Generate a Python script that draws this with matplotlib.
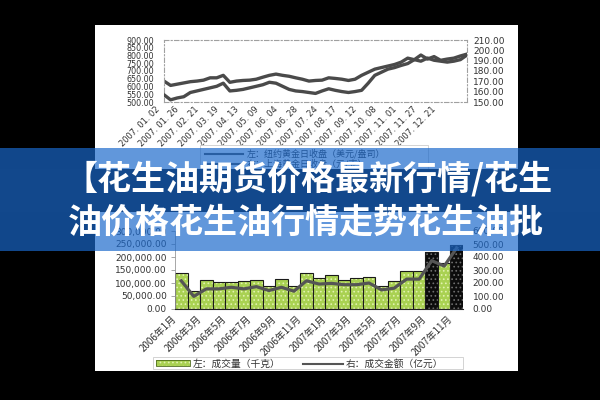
import matplotlib.pyplot as plt
from matplotlib.patches import Rectangle
from matplotlib.lines import Line2D
from matplotlib.transforms import ScaledTranslation

W, H = 600, 400
CJK = ['Noto Sans CJK SC', 'DejaVu Sans']


def fx(x):
    return x / W


def fy(y):
    return 1 - y / H


# top chart: daily gold closes 2007 (sampled)
dates = ["2007. 01. 02", "2007. 01. 26", "2007. 02. 21", "2007. 03. 19", "2007. 04. 13",
         "2007. 05. 09", "2007. 06. 04", "2007. 06. 28", "2007. 07. 24", "2007. 08. 17",
         "2007. 09. 12", "2007. 10. 08", "2007. 11. 01", "2007. 11. 27", "2007. 12. 21"]
ny_gold = [635, 607, 615, 623, 631, 635, 641, 656, 656, 672, 627, 635, 639, 641, 647, 660,
           672, 680, 672, 666, 656, 647, 635, 639, 641, 656, 652, 647, 639, 647, 672, 692,
           712, 722, 732, 742, 757, 783, 773, 803, 777, 793, 769, 777, 783, 797, 809]
sh_gold = [157.0, 152.1, 153.9, 155.1, 159.2, 160.7, 162.2, 163.7, 165.2, 168.2, 160.7, 161.3,
           162.2, 163.7, 165.2, 166.7, 169.1, 168.2, 165.2, 162.2, 160.7, 160.1, 159.2, 158.3,
           160.7, 162.8, 161.3, 160.1, 159.2, 160.1, 161.3, 168.2, 175.8, 178.8, 181.8, 183.3,
           185.4, 187.2, 191.0, 189.5, 192.5, 190.4, 189.5, 188.6, 189.5, 191.0, 195.5]

# bottom chart: monthly volume and turnover
months = ["2006年1月", "2006年3月", "2006年5月", "2006年7月", "2006年9月", "2006年11月",
          "2007年1月", "2007年3月", "2007年5月", "2007年7月", "2007年9月", "2007年11月"]
volume = [140000, 70000, 112000, 103000, 103000, 106000, 112000, 90000, 117000, 90000,
          140000, 118000, 130000, 113000, 118000, 122000, 90000, 106000, 145000, 145000,
          220000, 178000, 246000]
amount = [217, 97, 155, 155, 167, 155, 172, 142, 167, 137, 217, 192, 197, 187, 187, 200,
          147, 160, 230, 230, 372, 330, 470]
dark_bars = [20, 22]

title1 = "【花生油期货价格最新行情/花生"
title2 = "油价格花生油行情走势花生油批"

plt.rcParams['hatch.linewidth'] = 0.7
fig = plt.figure(figsize=(6, 4), dpi=100, facecolor='black')

# white panel
fig.add_artist(Rectangle((fx(95), fy(371)), fx(518) - fx(95), fy(25) - fy(371),
                         transform=fig.transFigure, facecolor='white', edgecolor='none', zorder=-5))

# ---- top chart
ax1 = fig.add_axes([fx(164), fy(102), fx(467) - fx(164), fy(40) - fy(102)])
x = list(range(len(ny_gold)))
ax1.plot(x, ny_gold, color='#4a4a4a', lw=2.4)
ax1.set_xlim(0, len(x) - 1)
ax1.set_ylim(500, 900)
ax1.set_yticks(range(500, 901, 50))
ax1.set_yticklabels([f"{v:.2f}" for v in range(500, 901, 50)])
ax1.set_xticks(range(0, 45, 3))
ax1.set_xticklabels(dates, rotation=45, ha='right', va='top', rotation_mode='anchor')
ax1.tick_params(axis='y', length=0, labelsize=5.8, pad=7, labelcolor='#333333')
ax1.tick_params(axis='x', length=0, labelsize=6, pad=2, labelcolor='#333333')
for s in ax1.spines.values():
    s.set_linestyle((0, (4, 2, 1, 2)))
    s.set_color('#a0a0a0')
    s.set_linewidth(0.8)
for lab in ax1.get_xticklabels():
    lab.set_transform(lab.get_transform() + ScaledTranslation(-9 / 100, 0, fig.dpi_scale_trans))

ax2 = ax1.twinx()
ax2.plot(x, sh_gold, color='#4a4a4a', lw=2.4)
ax2.set_ylim(150, 210)
ax2.set_yticks(range(150, 211, 10))
ax2.set_yticklabels([f"{v:.2f}" for v in range(150, 211, 10)])
ax2.tick_params(axis='y', length=0, labelsize=6.5, pad=4.5, labelcolor='#333333')
for s in ax2.spines.values():
    s.set_visible(False)

# top legend (behind banner)
fig.add_artist(Rectangle((fx(200), fy(173)), fx(428) - fx(200), fy(145) - fy(173),
                         transform=fig.transFigure, facecolor='white', edgecolor='#cccccc',
                         lw=0.6, zorder=5))
for yy, txt in [(154, "左：纽约黄金日收盘（美元/盎司）"), (164, "右：上海黄金日收盘（元/克）")]:
    fig.add_artist(Line2D([fx(205), fx(243)], [fy(yy), fy(yy)], transform=fig.transFigure,
                          color='#4a4a4a', lw=1.5, zorder=6))
    fig.text(fx(247), fy(yy), txt, fontsize=6.5, color='#333333', va='center', ha='left',
             family=CJK, zorder=6)

# ---- bottom chart
ax3 = fig.add_axes([fx(175), fy(309), fx(463) - fx(175), fy(231) - fy(309)])
bx = list(range(len(volume)))
for i, v in enumerate(volume):
    if i in dark_bars:
        fc, hc = '#0c0c0c', '#6e6e6e'
    else:
        fc, hc = '#a9d152', '#e2f2b0'
    ax3.bar(i, v, width=1, color=fc, edgecolor=hc, hatch='....', lw=0)
    ax3.bar(i, v, width=1, fill=False, edgecolor='#1a1a1a', lw=0.8)
ax3.set_xlim(-0.5, len(volume) - 0.5)
ax3.set_ylim(0, 300000)
ax3.set_yticks(range(0, 300001, 50000))
ax3.set_yticklabels([f"{v:,.2f}" for v in range(0, 300001, 50000)])
ax3.set_xticks(range(0, len(volume), 2))
ax3.set_xticklabels(months, rotation=45, ha='right', va='top', rotation_mode='anchor',
                    family=CJK)
ax3.tick_params(axis='y', length=3, width=0.6, color='#999999', labelsize=6.5, pad=3,
                labelcolor='#333333')
ax3.tick_params(axis='x', length=0, labelsize=7, pad=3, labelcolor='#333333')
ax3.spines['top'].set_visible(False)
ax3.spines['right'].set_visible(False)
ax3.spines['left'].set_color('#999999')
ax3.spines['left'].set_linewidth(0.6)
ax3.spines['bottom'].set_color('#222222')
ax3.spines['bottom'].set_linewidth(0.8)
for lab in ax3.get_xticklabels():
    lab.set_transform(lab.get_transform() + ScaledTranslation(-10 / 100, 0, fig.dpi_scale_trans))

ax4 = ax3.twinx()
ax4.plot(bx, amount, color='#555555', lw=2.3)
ax4.set_ylim(0, 600)
ax4.set_yticks(range(0, 601, 100))
ax4.set_yticklabels([f"{v:.2f}" for v in range(0, 601, 100)])
ax4.tick_params(axis='y', length=0, labelsize=6.5, pad=7, labelcolor='#333333')
for s in ax4.spines.values():
    s.set_visible(False)

# bottom legend
fig.add_artist(Rectangle((fx(153), fy(369)), fx(463) - fx(153), fy(357) - fy(369),
                         transform=fig.transFigure, facecolor='white', edgecolor='#cccccc',
                         lw=0.6, zorder=5))
fig.add_artist(Rectangle((fx(156), fy(366)), fx(190) - fx(156), fy(360) - fy(366),
                         transform=fig.transFigure, facecolor='#a9d152', edgecolor='#e2f2b0',
                         hatch='....', lw=0, zorder=6))
fig.add_artist(Rectangle((fx(156), fy(366)), fx(190) - fx(156), fy(360) - fy(366),
                         transform=fig.transFigure, fill=False, edgecolor='#4d6b1a',
                         lw=0.6, zorder=6))
fig.text(fx(193), fy(363.5), "左：成交量（千克）", fontsize=7, color='#333333',
         va='center', ha='left', family=CJK, zorder=6)
fig.add_artist(Line2D([fx(303), fx(343)], [fy(363.5), fy(363.5)], transform=fig.transFigure,
                      color='#555555', lw=1.5, zorder=6))
fig.text(fx(346), fy(363.5), "右：成交金额（亿元）", fontsize=7, color='#333333',
         va='center', ha='left', family=CJK, zorder=6)

# ---- banner overlay
fig.add_artist(Rectangle((0, fy(251)), 1, fy(148) - fy(251), transform=fig.transFigure,
                         facecolor='#1a68cb', edgecolor='none', alpha=0.69, zorder=10))
fig.add_artist(Rectangle((0, fy(212)), 1, fy(169) - fy(212), transform=fig.transFigure,
                         facecolor='#12488c', edgecolor='none', zorder=11))
fig.text(fx(64), fy(179), title1, fontsize=24.5, color='white', weight='heavy',
         family=CJK, va='center', ha='left', zorder=12)
fig.text(fx(68), fy(222), title2, fontsize=24.5, color='white', weight='heavy',
         family=CJK, va='center', ha='left', zorder=12)

fig.savefig('out.png', dpi=100, facecolor='black')
